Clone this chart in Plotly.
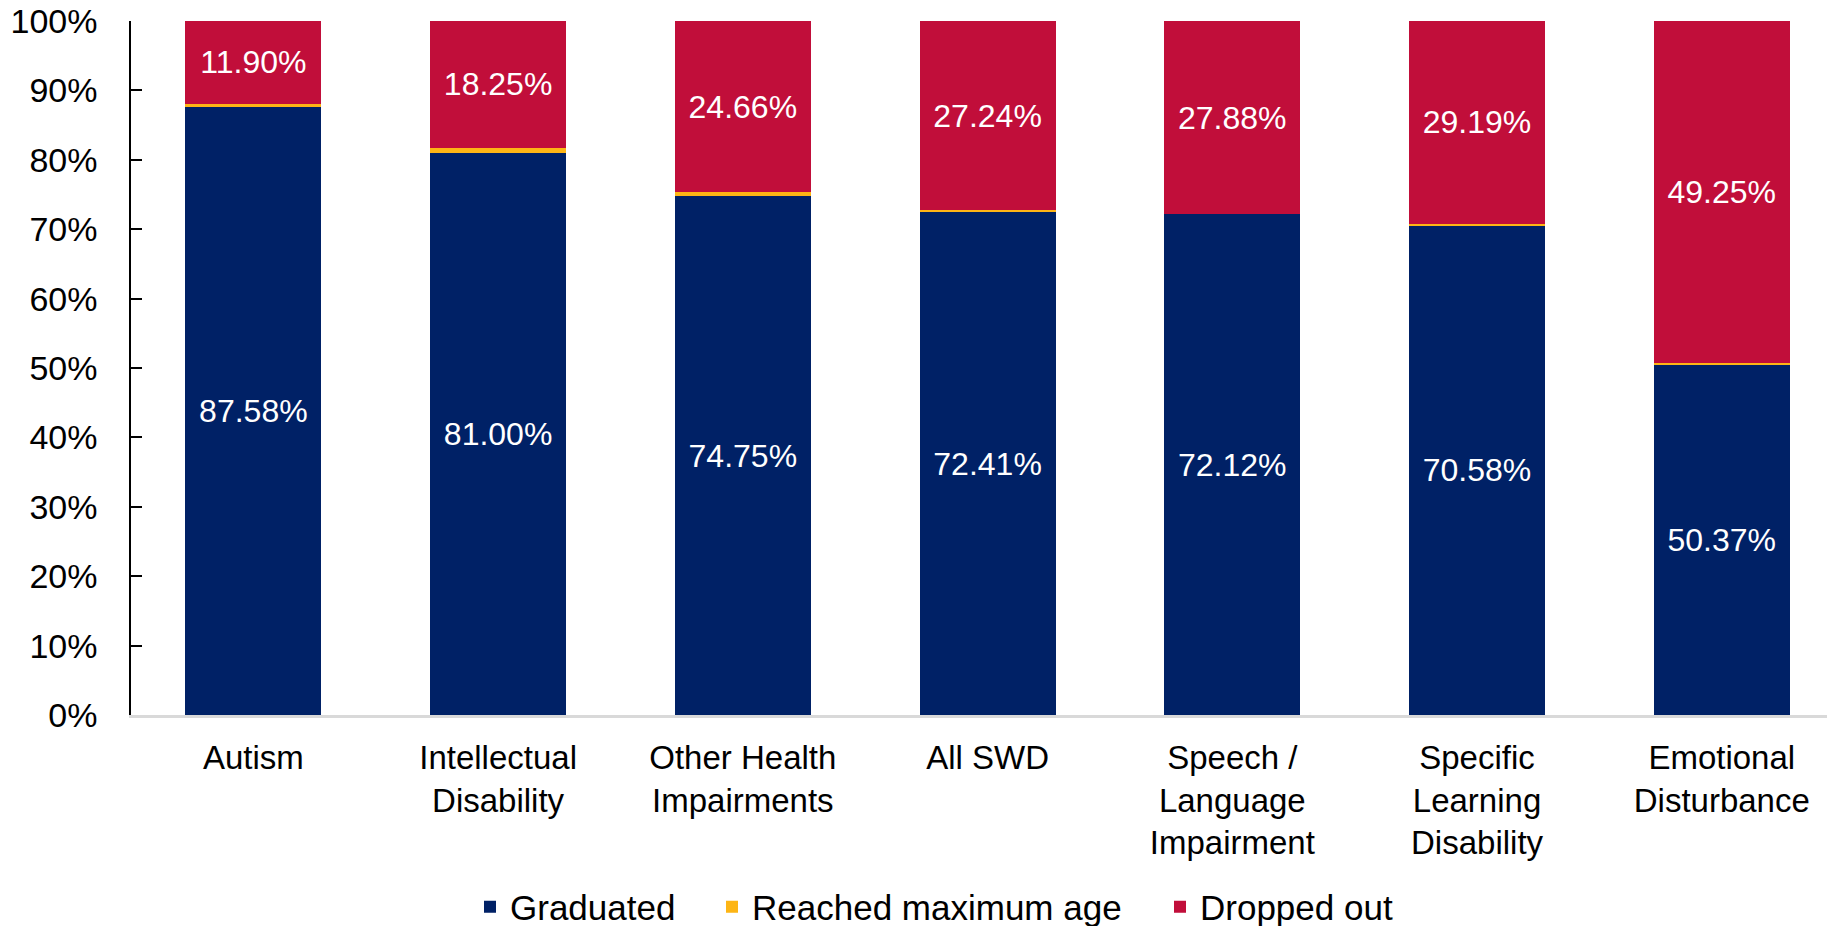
import plotly.graph_objects as go

categories = ["Autism", "Intellectual<br>Disability", "Other Health<br>Impairments", "All SWD",
              "Speech /<br>Language<br>Impairment", "Specific<br>Learning<br>Disability",
              "Emotional<br>Disturbance"]
graduated = [87.58, 81.00, 74.75, 72.41, 72.12, 70.58, 50.37]
reached_max_age = [0.52, 0.75, 0.59, 0.35, 0.00, 0.23, 0.38]
dropped_out = [11.90, 18.25, 24.66, 27.24, 27.88, 29.19, 49.25]
y_ticks = [0, 10, 20, 30, 40, 50, 60, 70, 80, 90, 100]
y_tick_labels = [f"{v}%" for v in y_ticks]

NAVY = "#002166"
ORANGE = "#FDB515"
RED = "#C10E3A"
FONT = "Liberation Sans, Arial, sans-serif"

L, R, T, B = 131, 0, 21, 211
W, H = 1827, 926
PW = W - L - R
PH = H - T - B

def px_to_paper_x(px):
    return (px - L) / PW

def px_to_paper_y(py):
    return (H - B - py) / PH

fig = go.Figure()
fig.add_trace(go.Bar(
    x=categories, y=graduated, name="Graduated", marker=dict(color=NAVY, line=dict(width=0)),
    texttemplate="%{y:.2f}%", textposition="inside", insidetextanchor="middle",
    textfont=dict(color="white", size=32, family=FONT), hoverinfo="skip", legend="legend"))
fig.add_trace(go.Bar(
    x=categories, y=reached_max_age, name="Reached maximum age",
    marker=dict(color=ORANGE, line=dict(width=0)), hoverinfo="skip", legend="legend2"))
fig.add_trace(go.Bar(
    x=categories, y=dropped_out, name="Dropped out", marker=dict(color=RED, line=dict(width=0)),
    texttemplate="%{y:.2f}%", textposition="inside", insidetextanchor="middle",
    textfont=dict(color="white", size=32, family=FONT), hoverinfo="skip", legend="legend3"))

leg_y = px_to_paper_y(907)
leg_common = dict(orientation="h", xanchor="left", yanchor="middle", y=leg_y,
                  font=dict(size=35, color="black", family=FONT), bgcolor="rgba(0,0,0,0)",
                  itemwidth=30)
fig.update_layout(
    barmode="stack", bargap=0.444,
    width=W, height=H,
    margin=dict(l=L, r=R, t=T, b=B, autoexpand=False),
    plot_bgcolor="white", paper_bgcolor="white",
    font=dict(family=FONT, color="black", size=33),
    legend=dict(x=px_to_paper_x(497 - 27), **leg_common),
    legend2=dict(x=px_to_paper_x(739 - 27), **leg_common),
    legend3=dict(x=px_to_paper_x(1187 - 27), **leg_common),
    showlegend=True,
)
fig.update_xaxes(
    range=[-0.5, 6.43], showline=True, linecolor="#D9D9D9", linewidth=3,
    ticks="", tickfont=dict(size=33, color="black"), ticklabelstandoff=11,
    showgrid=False, zeroline=False, fixedrange=True, automargin=False)
fig.update_yaxes(
    range=[0, 100], tickvals=y_ticks, ticktext=y_tick_labels,
    showline=True, linecolor="black", linewidth=1.5,
    ticks="inside", ticklen=11, tickcolor="black", tickwidth=1.5,
    tickfont=dict(size=34, color="black"), ticklabelstandoff=25,
    showgrid=False, zeroline=False, fixedrange=True, automargin=False)

fig.write_html("out.html", post_script="document.body.style.margin='0';",
               config={"displayModeBar": False})
